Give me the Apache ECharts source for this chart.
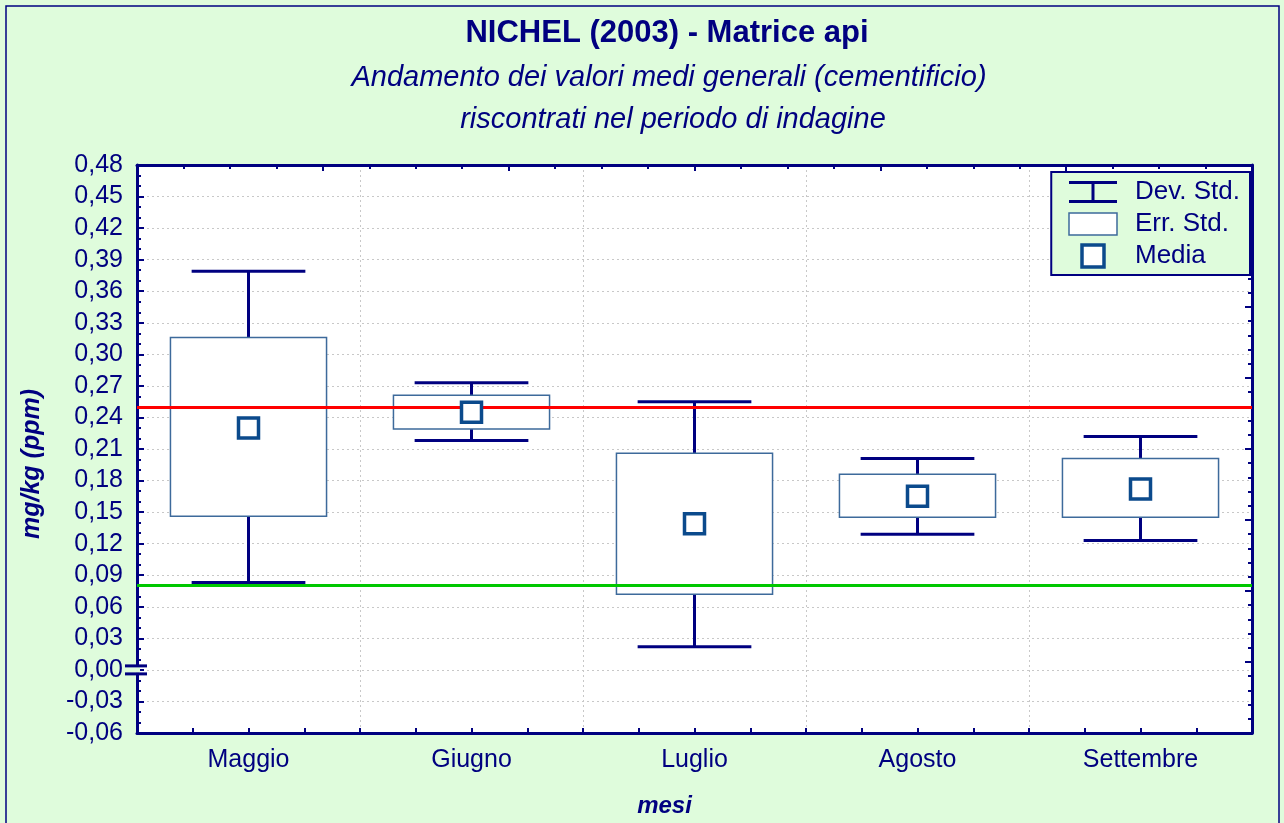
<!DOCTYPE html>
<html lang="it">
    <head>
        <meta charset="UTF-8" />
        <title>NICHEL (2003) - Matrice api</title>
        <script src="https://cdn.jsdelivr.net/npm/echarts@6/dist/echarts.min.js"></script>
        <style>
            body {
                margin: 0;
                padding: 0;
            }

            #chart {
                width: 1284px;
                height: 823px;
            }
        </style>
    </head>
    <body>
        <div id="chart"></div>
        <script>
            // valori (mg/kg)
            let categories = ['Maggio', 'Giugno', 'Luglio', 'Agosto', 'Settembre'];
            let devMin = [0.083, 0.218, 0.022, 0.129, 0.123];
            let devMax = [0.379, 0.273, 0.255, 0.201, 0.222];
            let errMin = [0.146, 0.229, 0.072, 0.145, 0.145];
            let errMax = [0.316, 0.261, 0.206, 0.186, 0.201];
            let media = [0.23, 0.245, 0.139, 0.165, 0.172];
            let limiteAlto = 0.25;
            let limiteBasso = 0.08;

            const NAVY = '#000080';
            const BG = '#dffcdc';
            const BOX = '#3d6a9b';
            const MEAN = '#0b4a8c';
            const FONT = 'Liberation Sans, Arial, sans-serif';

            let devData = categories.map((c, i) => [i, devMin[i], devMax[i]]);
            let errData = categories.map((c, i) => [i, errMin[i], errMax[i]]);

            function renderWhisker(params, api) {
                let x = api.value(0);
                let lo = api.coord([x, api.value(1)]);
                let hi = api.coord([x, api.value(2)]);
                let half = api.size([1, 0])[0] * 0.255;
                let style = { stroke: NAVY, lineWidth: 3, fill: null };
                return {
                    type: 'group',
                    children: [
                        { type: 'line', shape: { x1: lo[0], y1: lo[1], x2: hi[0], y2: hi[1] }, style: style },
                        { type: 'line', shape: { x1: lo[0] - half, y1: lo[1], x2: lo[0] + half, y2: lo[1] }, style: style },
                        { type: 'line', shape: { x1: hi[0] - half, y1: hi[1], x2: hi[0] + half, y2: hi[1] }, style: style }
                    ]
                };
            }

            function renderBox(params, api) {
                let x = api.value(0);
                let lo = api.coord([x, api.value(1)]);
                let hi = api.coord([x, api.value(2)]);
                let half = api.size([1, 0])[0] * 0.35;
                return {
                    type: 'rect',
                    shape: { x: lo[0] - half, y: hi[1], width: half * 2, height: lo[1] - hi[1] },
                    style: { fill: '#ffffff', stroke: BOX, lineWidth: 1.5 }
                };
            }

            function fmt(v) {
                if (Math.abs(v) < 1e-9) v = 0;
                return v.toFixed(2).replace('.', ',');
            }

            let frameAxisLine = { show: true, onZero: false, lineStyle: { color: NAVY, width: 3 } };
            let dotted = { show: true, lineStyle: { color: '#c8c8c8', type: [2, 3], width: 1 } };

            let chartDom = document.getElementById('chart');
            let myChart = echarts.init(chartDom);

            let option = {
                animation: false,
                backgroundColor: BG,
                textStyle: { fontFamily: FONT },
                title: [
                    {
                        text: 'NICHEL (2003) - Matrice api',
                        left: 662,
                        top: 13,
                        textAlign: 'center',
                        textStyle: { fontSize: 31, fontWeight: 'bold', color: NAVY, fontFamily: FONT }
                    },
                    {
                        text: 'Andamento dei valori medi generali (cementificio)',
                        left: 664,
                        top: 58,
                        textAlign: 'center',
                        textStyle: { fontSize: 29, fontWeight: 'normal', fontStyle: 'italic', color: NAVY, fontFamily: FONT }
                    },
                    {
                        text: 'riscontrati nel periodo di indagine',
                        left: 668,
                        top: 100,
                        textAlign: 'center',
                        textStyle: { fontSize: 29, fontWeight: 'normal', fontStyle: 'italic', color: NAVY, fontFamily: FONT }
                    }
                ],
                legend: {
                    orient: 'vertical',
                    right: 34,
                    top: 172,
                    backgroundColor: BG,
                    borderColor: NAVY,
                    borderWidth: 2,
                    padding: [7, 10, 6, 17],
                    itemWidth: 48,
                    itemHeight: 22,
                    itemGap: 6,
                    textStyle: { color: NAVY, fontSize: 26, fontFamily: FONT, padding: [0, 0, 0, 13] },
                    data: [
                        {
                            name: 'Dev. Std.',
                            icon: 'path://M0,0H48V3H25.5V19H48V22H0V19H22.5V3H0Z',
                            itemStyle: { color: NAVY, borderWidth: 0 }
                        },
                        {
                            name: 'Err. Std.',
                            icon: 'rect',
                            itemStyle: { color: '#ffffff', borderColor: BOX, borderWidth: 1.5 }
                        },
                        {
                            name: 'Media',
                            icon: 'path://M0,0H10V10H0Z',
                            itemStyle: { color: '#ffffff', borderColor: MEAN, borderWidth: 3.5 }
                        }
                    ]
                },
                grid: {
                    left: 137,
                    right: 32,
                    top: 165,
                    bottom: 90,
                    show: true,
                    backgroundColor: '#ffffff',
                    borderWidth: 0
                },
                xAxis: [
                    {
                        type: 'category',
                        data: categories,
                        position: 'bottom',
                        axisLine: { show: false, onZero: false },
                        axisTick: { show: false },
                        splitLine: { show: false },
                        axisLabel: { color: NAVY, fontSize: 25, margin: 15, fontFamily: FONT },
                        name: 'mesi',
                        nameLocation: 'middle',
                        nameGap: 61,
                        nameTextStyle: {
                            color: NAVY,
                            fontSize: 24,
                            fontWeight: 'bold',
                            fontStyle: 'italic',
                            fontFamily: FONT,
                            padding: [0, 60, 0, 0]
                        }
                    },
                    {
                        type: 'value',
                        min: 0,
                        max: 5,
                        interval: 1,
                        position: 'bottom',
                        axisLine: frameAxisLine,
                        axisTick: { show: true, inside: true, length: 5, lineStyle: { color: NAVY, width: 2 } },
                        minorTick: { show: true, splitNumber: 4, length: 5, lineStyle: { color: NAVY, width: 2 } },
                        axisLabel: { show: false },
                        splitLine: dotted
                    },
                    {
                        type: 'value',
                        min: 0,
                        max: 6,
                        interval: 1,
                        position: 'top',
                        axisLine: frameAxisLine,
                        axisTick: { show: true, inside: true, length: 6, lineStyle: { color: NAVY, width: 2 } },
                        minorTick: { show: true, splitNumber: 4, length: 4, lineStyle: { color: NAVY, width: 2 } },
                        axisLabel: { show: false },
                        splitLine: { show: false }
                    }
                ],
                yAxis: [
                    {
                        type: 'value',
                        min: -0.06,
                        max: 0.48,
                        interval: 0.03,
                        position: 'left',
                        axisLine: frameAxisLine,
                        axisTick: { show: true, inside: true, length: 7, lineStyle: { color: NAVY, width: 2 } },
                        minorTick: { show: true, splitNumber: 3, length: 4, lineStyle: { color: NAVY, width: 2 } },
                        axisLabel: { color: NAVY, fontSize: 25, margin: 14, fontFamily: FONT, formatter: fmt },
                        splitLine: dotted,
                        name: 'mg/kg (ppm)',
                        nameLocation: 'middle',
                        nameGap: 92,
                        nameTextStyle: {
                            color: NAVY,
                            fontSize: 25,
                            fontWeight: 'bold',
                            fontStyle: 'italic',
                            fontFamily: FONT,
                            padding: [0, 30, 0, 0]
                        }
                    },
                    {
                        type: 'value',
                        min: 0,
                        max: 8,
                        interval: 1,
                        position: 'right',
                        axisLine: frameAxisLine,
                        axisTick: { show: true, inside: true, length: 7, lineStyle: { color: NAVY, width: 2 } },
                        minorTick: { show: true, splitNumber: 5, length: 4, lineStyle: { color: NAVY, width: 2 } },
                        axisLabel: { show: false },
                        splitLine: { show: false }
                    }
                ],
                series: [
                    {
                        name: 'Dev. Std.',
                        type: 'custom',
                        xAxisIndex: 0,
                        yAxisIndex: 0,
                        z: 2,
                        itemStyle: { color: NAVY },
                        renderItem: renderWhisker,
                        data: devData,
                        markLine: {
                            silent: true,
                            symbol: 'none',
                            z: 5,
                            label: { show: false },
                            data: [
                                { yAxis: limiteAlto, lineStyle: { color: '#ff0000', width: 3, type: 'solid' } },
                                { yAxis: limiteBasso, lineStyle: { color: '#00c800', width: 3, type: 'solid' } }
                            ]
                        }
                    },
                    {
                        name: 'Err. Std.',
                        type: 'custom',
                        xAxisIndex: 0,
                        yAxisIndex: 0,
                        z: 3,
                        itemStyle: { color: '#ffffff', borderColor: BOX },
                        renderItem: renderBox,
                        data: errData
                    },
                    {
                        name: 'Media',
                        type: 'scatter',
                        xAxisIndex: 0,
                        yAxisIndex: 0,
                        z: 6,
                        symbol: 'rect',
                        symbolSize: 20,
                        itemStyle: { color: '#ffffff', borderColor: MEAN, borderWidth: 3.5, opacity: 1 },
                        data: media
                    }
                ]
            };
            myChart.setOption(option);

            // interruzione dell'asse a 0,00 e cornice esterna
            let y0 = myChart.convertToPixel({ yAxisIndex: 0 }, 0);
            let x0 = myChart.convertToPixel({ xAxisIndex: 1 }, 0);
            myChart.setOption({
                graphic: [
                    {
                        type: 'rect',
                        z: 100,
                        shape: { x: 6, y: 6, width: 1273, height: 840 },
                        style: { fill: null, stroke: NAVY, lineWidth: 1.5 }
                    },
                    {
                        type: 'rect',
                        z: 100,
                        shape: { x: x0 - 3, y: y0 - 3, width: 6, height: 6 },
                        style: { fill: BG }
                    },
                    {
                        type: 'line',
                        z: 101,
                        shape: { x1: x0 - 12, y1: y0 - 4, x2: x0 + 10, y2: y0 - 4 },
                        style: { stroke: NAVY, lineWidth: 3 }
                    },
                    {
                        type: 'line',
                        z: 101,
                        shape: { x1: x0 - 12, y1: y0 + 4, x2: x0 + 10, y2: y0 + 4 },
                        style: { stroke: NAVY, lineWidth: 3 }
                    }
                ]
            });
        </script>
    </body>
</html>
